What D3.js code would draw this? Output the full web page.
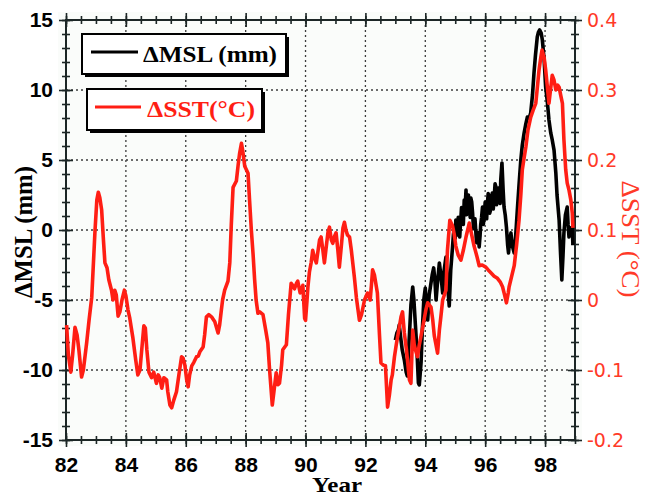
<!DOCTYPE html>
<html><head><meta charset="utf-8">
<script src="https://cdn.jsdelivr.net/npm/d3@7"></script>
<style>body{margin:0;background:#fff}</style></head>
<body><svg id="c" width="652" height="497"></svg>
<script>
const sstYears = [82.02,82.08,82.16,82.22,82.30,82.37,82.43,82.52,82.58,82.69,82.77,82.86,82.97,83.03,83.08,83.13,83.19,83.25,83.30,83.37,83.43,83.52,83.57,83.63,83.68,83.74,83.80,83.87,83.95,84.00,84.07,84.13,84.23,84.33,84.40,84.47,84.53,84.60,84.65,84.70,84.77,84.86,84.93,85.02,85.08,85.13,85.20,85.27,85.36,85.40,85.47,85.53,85.60,85.69,85.77,85.86,85.91,85.97,86.03,86.08,86.13,86.20,86.27,86.36,86.42,86.47,86.58,86.63,86.69,86.77,86.86,86.97,87.08,87.13,87.19,87.23,87.30,87.41,87.47,87.52,87.58,87.69,87.75,87.80,87.86,87.90,87.97,88.08,88.13,88.19,88.25,88.30,88.35,88.41,88.47,88.58,88.67,88.74,88.80,88.89,88.95,89.02,89.08,89.13,89.20,89.24,89.36,89.43,89.52,89.57,89.63,89.70,89.74,89.82,89.91,89.97,90.00,90.05,90.08,90.13,90.19,90.24,90.30,90.36,90.42,90.47,90.52,90.58,90.63,90.70,90.75,90.80,90.86,90.91,90.97,91.02,91.08,91.13,91.20,91.25,91.30,91.35,91.40,91.47,91.53,91.63,91.70,91.80,91.87,91.97,92.07,92.16,92.20,92.24,92.30,92.40,92.47,92.52,92.60,92.67,92.74,92.80,92.86,92.90,92.97,93.03,93.13,93.19,93.24,93.30,93.37,93.47,93.52,93.58,93.63,93.69,93.74,93.80,93.91,94.02,94.08,94.19,94.25,94.30,94.41,94.47,94.52,94.58,94.69,94.74,94.82,94.91,94.97,95.02,95.10,95.19,95.27,95.36,95.47,95.55,95.63,95.72,95.80,95.90,96.02,96.10,96.19,96.30,96.41,96.50,96.58,96.65,96.71,96.77,96.80,96.88,96.97,97.05,97.13,97.19,97.24,97.30,97.36,97.43,97.52,97.60,97.69,97.75,97.80,97.86,97.90,97.97,98.02,98.08,98.13,98.19,98.24,98.30,98.36,98.42,98.47,98.52,98.58,98.63,98.69,98.74,98.80,98.86,98.91,98.93];
const sstValues = [-0.036,-0.079,-0.103,-0.079,-0.039,-0.050,-0.071,-0.110,-0.100,-0.061,-0.029,0.004,0.100,0.143,0.154,0.146,0.129,0.086,0.053,0.046,0.029,0.014,0.000,0.014,0.007,-0.023,-0.017,0.000,0.014,0.006,-0.014,-0.026,-0.053,-0.086,-0.107,-0.100,-0.071,-0.037,-0.040,-0.071,-0.103,-0.111,-0.103,-0.119,-0.107,-0.111,-0.126,-0.111,-0.114,-0.131,-0.150,-0.154,-0.143,-0.131,-0.107,-0.081,-0.083,-0.093,-0.114,-0.124,-0.107,-0.094,-0.089,-0.081,-0.080,-0.074,-0.067,-0.050,-0.024,-0.021,-0.024,-0.031,-0.047,-0.036,-0.014,0.000,0.014,0.027,0.053,0.107,0.161,0.170,0.193,0.210,0.224,0.214,0.191,0.181,0.143,0.100,0.064,0.029,0.000,-0.019,-0.017,-0.021,-0.043,-0.061,-0.100,-0.150,-0.129,-0.104,-0.121,-0.119,-0.093,-0.071,-0.064,-0.021,0.024,0.021,0.016,0.024,0.027,0.010,0.021,-0.026,-0.029,0.000,0.019,0.040,0.054,0.071,0.060,0.053,0.071,0.086,0.090,0.071,0.053,0.079,0.097,0.104,0.086,0.081,0.091,0.096,0.071,0.047,0.079,0.103,0.111,0.100,0.093,0.090,0.071,0.033,0.003,-0.029,-0.021,0.000,0.010,0.000,0.021,0.043,0.036,0.010,-0.050,-0.090,-0.093,-0.094,-0.153,-0.136,-0.114,-0.107,-0.081,-0.064,-0.039,-0.024,-0.017,-0.047,-0.071,-0.114,-0.119,-0.043,-0.064,-0.074,-0.081,-0.064,-0.040,-0.014,-0.004,-0.010,-0.029,-0.051,-0.076,-0.043,-0.024,0.000,0.014,0.071,0.114,0.106,0.093,0.077,0.064,0.057,0.071,0.090,0.110,0.093,0.077,0.063,0.049,0.050,0.047,0.043,0.039,0.034,0.031,0.026,0.019,0.007,-0.004,0.010,0.019,0.033,0.049,0.079,0.114,0.150,0.186,0.203,0.219,0.243,0.261,0.271,0.281,0.307,0.329,0.347,0.357,0.346,0.329,0.303,0.281,0.303,0.321,0.314,0.300,0.307,0.304,0.293,0.281,0.229,0.186,0.167,0.157,0.143,0.124,0.103];
const mslYears = [93.00,93.05,93.10,93.13,93.18,93.23,93.30,93.36,93.40,93.43,93.47,93.52,93.58,93.62,93.67,93.72,93.77,93.80,93.86,93.90,93.95,94.00,94.04,94.08,94.13,94.19,94.23,94.28,94.32,94.36,94.40,94.47,94.52,94.58,94.63,94.69,94.73,94.77,94.80,94.85,94.91,94.94,94.97,95.00,95.02,95.05,95.07,95.10,95.13,95.15,95.18,95.21,95.24,95.27,95.30,95.33,95.36,95.38,95.40,95.44,95.47,95.50,95.52,95.55,95.58,95.61,95.63,95.66,95.69,95.71,95.73,95.76,95.80,95.83,95.85,95.88,95.91,95.94,95.97,96.00,96.02,96.05,96.07,96.10,96.13,96.15,96.18,96.21,96.24,96.27,96.30,96.33,96.36,96.38,96.40,96.44,96.47,96.50,96.52,96.56,96.60,96.63,96.67,96.71,96.75,96.78,96.82,96.86,96.90,96.97,97.02,97.08,97.13,97.19,97.24,97.30,97.35,97.41,97.47,97.52,97.58,97.63,97.68,97.74,97.78,97.82,97.87,97.91,97.97,98.02,98.07,98.13,98.19,98.24,98.30,98.36,98.40,98.47,98.52,98.56,98.60,98.63,98.68,98.74,98.77,98.80,98.85,98.91,98.93];
const mslValues = [-7.86,-7.36,-7.14,-6.79,-7.71,-8.57,-9.29,-10.14,-10.43,-8.93,-7.50,-5.36,-4.07,-5.00,-6.79,-8.57,-10.93,-11.07,-9.43,-7.14,-5.00,-4.14,-5.36,-6.43,-4.64,-3.79,-3.21,-2.71,-3.57,-5.00,-3.93,-2.36,-3.21,-4.50,-2.86,-1.93,-3.21,-4.64,-5.43,-2.86,-1.21,-0.30,0.14,-0.60,0.71,0.20,-0.36,0.90,-0.21,-0.50,0.57,1.60,1.21,0.40,2.14,1.60,2.86,1.10,1.79,2.50,1.64,0.90,2.29,2.00,1.21,0.10,0.36,0.80,-0.21,-0.90,-0.71,-0.20,-1.21,-0.40,0.36,0.90,1.64,0.40,1.07,2.00,1.21,0.80,1.79,2.60,2.14,1.20,1.43,2.40,2.64,1.50,2.29,3.30,3.07,1.80,2.14,3.00,2.36,1.90,3.57,4.79,2.86,1.64,1.07,0.21,-1.07,-1.64,-0.71,-0.21,-1.07,-1.64,-0.36,1.64,3.21,5.00,6.07,6.93,7.50,8.07,8.00,8.36,9.64,11.21,12.50,13.79,14.14,14.29,14.07,13.57,12.14,10.21,9.29,7.86,6.93,6.43,5.71,4.07,2.50,0.71,-1.79,-3.57,-1.79,-0.21,1.07,1.64,0.36,-0.50,0.14,0.21,-1.07];
const yearTicks = [82,84,86,88,90,92,94,96,98];
const mslTicks = [-15,-10,-5,0,5,10,15];
const sstTicks = [-0.2,-0.1,0,0.1,0.2,0.3,0.4];
const sstTickLabels = ["-0.2","-0.1","0","0.1","0.2","0.3","0.4"];
const legendLabels = ["\u0394MSL (mm)","\u0394SST(\u00b0C)"];
const leftTitle = "\u0394MSL (mm)";
const rightTitle = "\u0394SST (\u00b0C)";
const bottomTitle = "Year";

const svg = d3.select("#c");
const L = 66, R = 575, T = 20, B = 440;
const RED = "#ff1e14", RED_T = "#ff3a28", AX = "#1c2626";
const x = d3.scaleLinear().domain([82, 99]).range([L, R]);
const yL = d3.scaleLinear().domain([-15, 15]).range([B, T]);
const yR = d3.scaleLinear().domain([-0.2, 0.4]).range([B, T]);

svg.append("rect").attr("x", 58).attr("y", 12).attr("width", 524).attr("height", 434).attr("fill", "#fafcfa");

// grid
const grid = svg.append("g").attr("stroke", "#3c3c3c").attr("stroke-width", 1.3).attr("stroke-dasharray", "2,3");
yearTicks.slice(1).forEach(v => grid.append("line").attr("x1", x(v)).attr("x2", x(v)).attr("y1", T).attr("y2", B));
mslTicks.slice(1, -1).forEach(v => grid.append("line").attr("x1", L).attr("x2", R).attr("y1", yL(v)).attr("y2", yL(v)));

// crossing-tick axes
function crossAxis(gen, tx, ty, vals, size, fmt, vertical) {
  const g = svg.append("g").attr("transform", `translate(${tx},${ty})`)
    .call(gen.tickValues(vals).tickSize(size).tickFormat(fmt || (() => "")));
  g.select(".domain").remove();
  g.selectAll(".tick line").attr("stroke", AX).attr("stroke-width", 1.6).each(function () {
    const l = d3.select(this);
    if (vertical) l.attr("x1", -(+l.attr("x2"))); else l.attr("y1", -(+l.attr("y2")));
  });
  return g;
}
const minorYears = d3.range(82, 99.01, 0.5);
const minorMsl = d3.range(-15, 15.01, 1);
crossAxis(d3.axisBottom(x), 0, B, minorYears, 4);
crossAxis(d3.axisTop(x), 0, T, minorYears, 4);
crossAxis(d3.axisLeft(yL), L, 0, minorMsl, 4, null, true);
crossAxis(d3.axisRight(yL), R, 0, minorMsl, 4, null, true);

const gb = crossAxis(d3.axisBottom(x).tickPadding(10), 0, B, yearTicks, 7, d => String(d));
crossAxis(d3.axisTop(x), 0, T, yearTicks, 7);
const gl = crossAxis(d3.axisLeft(yL).tickPadding(6), L, 0, mslTicks, 7, d => String(d), true);
const gr = crossAxis(d3.axisRight(yR).tickPadding(5), R, 0, sstTicks, 7, (d, i) => sstTickLabels[i], true);

[gb, gl].forEach(g => g.selectAll("text").attr("font-family", "Liberation Sans, Arial, sans-serif")
  .attr("font-weight", "bold").attr("font-size", 21).attr("fill", "#000"));
gr.selectAll("text").attr("font-family", "DejaVu Sans, sans-serif").attr("font-size", 19).attr("fill", RED_T);

// frame
svg.append("rect").attr("x", L).attr("y", T).attr("width", R - L).attr("height", B - T)
  .attr("fill", "none").attr("stroke", AX).attr("stroke-width", 2);

// series
const mslData = mslYears.map((t, i) => [t, mslValues[i]]).filter(d => d[1] != null);
const n = Math.min(sstYears.length, sstValues.length);
const sstData = sstYears.slice(0, n).map((t, i) => [t, sstValues[i]]);
svg.append("path").datum(mslData)
  .attr("d", d3.line().x(d => x(d[0])).y(d => yL(d[1])))
  .attr("fill", "none").attr("stroke", "#000").attr("stroke-width", 3.6).attr("stroke-linejoin", "round");
svg.append("path").datum(sstData)
  .attr("d", d3.line().x(d => x(d[0])).y(d => yR(d[1])))
  .attr("fill", "none").attr("stroke", RED).attr("stroke-width", 3.6).attr("stroke-linejoin", "round");

// legend
function legendBox(bx, by, bw, bh, color, label, lx1, lx2, ly, tx, ty, tlen) {
  svg.append("rect").attr("x", bx + 3).attr("y", by + 3).attr("width", bw).attr("height", bh).attr("fill", "#000");
  svg.append("rect").attr("x", bx).attr("y", by).attr("width", bw).attr("height", bh)
    .attr("fill", "#fff").attr("stroke", "#000").attr("stroke-width", 2);
  svg.append("line").attr("x1", lx1).attr("x2", lx2).attr("y1", ly).attr("y2", ly)
    .attr("stroke", color).attr("stroke-width", 3);
  svg.append("text").attr("x", tx).attr("y", ty).text(label)
    .attr("font-family", "Liberation Serif, Times New Roman, serif").attr("font-weight", "bold")
    .attr("font-size", 24).attr("fill", color)
    .attr("textLength", tlen).attr("lengthAdjust", "spacingAndGlyphs");
}
legendBox(82, 34, 204, 40, "#000", legendLabels[0], 91, 138, 52, 143, 62, 134);
legendBox(87, 89, 175, 41, RED, legendLabels[1], 95, 141, 107, 147, 117, 108);

// axis titles
svg.append("text").attr("transform", "translate(32,232) rotate(-90)").attr("text-anchor", "middle")
  .text(leftTitle).attr("font-family", "Liberation Serif, Times New Roman, serif").attr("font-weight", "bold")
  .attr("font-size", 26).attr("fill", "#000").attr("textLength", 132).attr("lengthAdjust", "spacingAndGlyphs");
svg.append("text").attr("transform", "translate(622,239) rotate(90)").attr("text-anchor", "middle")
  .text(rightTitle).attr("font-family", "Liberation Serif, Times New Roman, serif")
  .attr("font-size", 26).attr("fill", RED_T).attr("textLength", 117).attr("lengthAdjust", "spacingAndGlyphs");
svg.append("text").attr("x", 337).attr("y", 492).attr("text-anchor", "middle")
  .text(bottomTitle).attr("font-family", "Liberation Serif, Times New Roman, serif").attr("font-weight", "bold")
  .attr("font-size", 21).attr("fill", "#000").attr("textLength", 50).attr("lengthAdjust", "spacingAndGlyphs");
</script></body></html>
